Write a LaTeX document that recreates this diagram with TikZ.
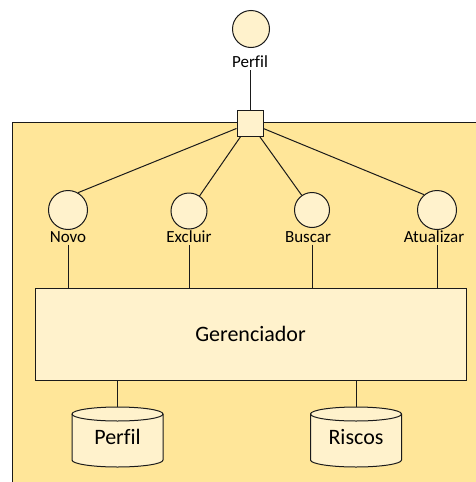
\documentclass[tikz,border=0pt]{standalone}
\usepackage{fontspec}
\setmainfont{Carlito}[Ligatures=NoCommon]
\definecolor{zoneyellow}{HTML}{FFE699}
\definecolor{paleyellow}{HTML}{FFF2CC}
\definecolor{inkline}{HTML}{1A1A1A}
\tikzset{
  conn/.style={draw=inkline, line width=1pt},
  usecase/.style={circle, draw=inkline, fill=paleyellow, line width=1pt, minimum size=#1, inner sep=0pt},
  smalltext/.style={font=\fontsize{17}{20}\selectfont, inner sep=2pt, text=black},
  bigtext/.style={font=\fontsize{22}{26}\selectfont, text=black},
  portbox/.style={rectangle, draw=inkline, fill=paleyellow, line width=1pt, minimum size=26pt, inner sep=0pt},
  managerbox/.style={rectangle, draw=inkline, fill=paleyellow, line width=1pt, minimum width=431pt, minimum height=92pt, bigtext},
  storebody/.style={minimum width=91pt, minimum height=60pt, inner sep=0pt, bigtext},
  cylfill/.style={draw=inkline, fill=paleyellow, line width=1pt},
}
% database cylinder: #1 name, #2 centre x, #3 centre y, #4 text
\newcommand{\datastore}[4]{%
  \path[cylfill] (#2-45.5,#3+23) -- (#2-45.5,#3-23)
     arc[start angle=180, end angle=360, x radius=45.5, y radius=7]
     -- (#2+45.5,#3+23)
     arc[start angle=0, end angle=180, x radius=45.5, y radius=7] -- cycle;
  \draw[conn] (#2-45.5,#3+23) arc[start angle=180, end angle=360, x radius=45.5, y radius=7];
  \node[storebody] (#1) at (#2,#3) {#4};
}
\begin{document}
\begin{tikzpicture}[x=1pt, y=1pt]
  \useasboundingbox (0,0) rectangle (476,-482);
  % system boundary
  \path[fill=zoneyellow, draw=inkline, line width=1pt] (12,-122) rectangle (490,-500);

  % external actor
  \node[usecase=37pt] (actor) at (251,-29) {};
  \node[smalltext] (actorlab) at (250,-62) {Perf\kern0pt il};
  \node[portbox] (port) at (250,-123) {};
  \draw[conn] (actorlab.south -| port) -- (port.north);

  % use cases
  \node[usecase=39pt] (novo) at (68,-210) {};
  \node[usecase=36pt] (excluir) at (189,-211) {};
  \node[usecase=35pt] (buscar) at (312,-210) {};
  \node[usecase=39pt] (atualizar) at (437,-210) {};
  \node[smalltext] (novolab) at (68,-237) {Novo};
  \node[smalltext] (excluirlab) at (189,-237) {Excluir};
  \node[smalltext] (buscarlab) at (308,-237) {Buscar};
  \node[smalltext] (atualizarlab) at (434,-237) {Atualizar};

  \draw[conn] (port) -- (novo.60);
  \draw[conn] (port) -- (excluir.55);
  \draw[conn] (port) -- (buscar.125);
  \draw[conn] (port) -- (atualizar.130);

  % manager
  \node[managerbox] (manager) at (250.5,-334) {Gerenciador};
  \draw[conn] (novo |- novolab.south) -- (novo |- manager.north);
  \draw[conn] (excluir |- excluirlab.south) -- (excluir |- manager.north);
  \draw[conn] (buscar |- buscarlab.south) -- (buscar |- manager.north);
  \draw[conn] (atualizar |- atualizarlab.south) -- (atualizar |- manager.north);

  % data stores
  \datastore{dbperfil}{117.5}{-437}{Perf\kern0pt il}
  \datastore{dbriscos}{356}{-437}{Riscos}
  \draw[conn] (manager.south -| dbperfil) -- (dbperfil.north);
  \draw[conn] (manager.south -| dbriscos) -- (dbriscos.north);
\end{tikzpicture}
\end{document}
